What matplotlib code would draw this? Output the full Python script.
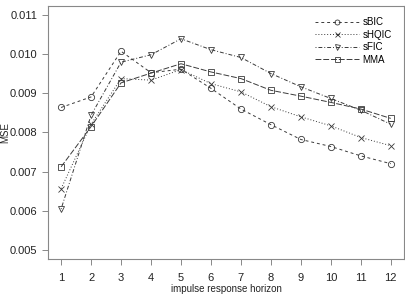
import numpy as np
import matplotlib
matplotlib.use("Agg")
import matplotlib.pyplot as plt

horizon = np.arange(1, 13)
sbic = [0.00864, 0.00891, 0.01008, 0.00953, 0.00962, 0.00913, 0.00860, 0.00820,
        0.00782, 0.00764, 0.00740, 0.00720]
shqic = [0.00656, 0.00821, 0.00938, 0.00934, 0.00961, 0.00925, 0.00904, 0.00866,
         0.00840, 0.00817, 0.00787, 0.00766]
sfic = [0.00604, 0.00844, 0.00980, 0.00999, 0.01040, 0.01012, 0.00992, 0.00951,
        0.00917, 0.00887, 0.00857, 0.00821]
mma = [0.00712, 0.00815, 0.00927, 0.00952, 0.00976, 0.00955, 0.00938, 0.00908,
       0.00893, 0.00877, 0.00860, 0.00836]

yticks = [0.005, 0.006, 0.007, 0.008, 0.009, 0.010, 0.011]

plt.rcParams['font.family'] = ['Liberation Sans', 'DejaVu Sans']

fig = plt.figure(figsize=(4.06, 2.98), dpi=100)
ax = fig.add_axes([0.118, 0.131, 0.877, 0.849])

lc = '#3a3a3a'
common = dict(color=lc, lw=0.7, markersize=4.5, markerfacecolor='none',
              markeredgecolor=lc, markeredgewidth=0.6)
ax.plot(horizon, sbic, linestyle=(0, (3, 3)), marker='o', label='sBIC', **common)
ax.plot(horizon, shqic, linestyle=(0, (1, 2)), marker='x', label='sHQIC', **common)
ax.plot(horizon, sfic, linestyle=(0, (1, 2, 4, 2)), marker='v', label='sFIC', **common)
ax.plot(horizon, mma, linestyle=(0, (6, 2)), marker='s', label='MMA', **common)

ax.set_xlim(0.56, 12.44)
ax.set_ylim(0.00476, 0.01124)
ax.set_xticks(horizon)
ax.set_yticks(yticks)
ax.set_yticklabels([f"{v:.3f}" for v in yticks])
for s in ax.spines.values():
    s.set_color('#888888')
    s.set_linewidth(0.8)
ax.tick_params(colors='#888888', labelcolor='#222222', labelsize=8, length=4, width=0.7)
ax.tick_params(axis='x', pad=6)
ax.set_xlabel('impulse response horizon', fontsize=7, color='#222222', labelpad=1)
ax.set_ylabel('MSE', fontsize=7, color='#222222')
ax.yaxis.set_label_coords(-0.105, 0.5)

leg = ax.legend(loc='upper right', frameon=False, fontsize=7, handlelength=4.5,
                handletextpad=0.4, labelspacing=0.25, borderaxespad=0.5,
                markerscale=0.8, bbox_to_anchor=(0.99, 0.99))

fig.savefig('out.png', dpi=100)
